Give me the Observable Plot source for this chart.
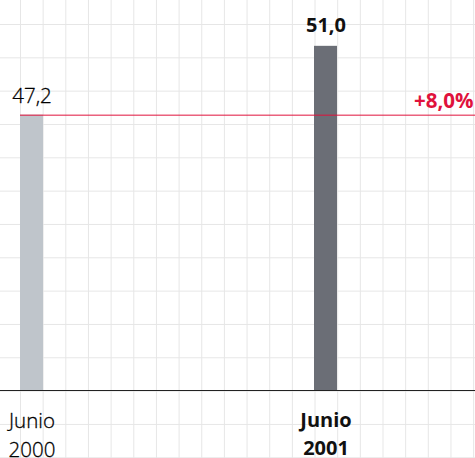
<!DOCTYPE html>
<html>
<head>
<meta charset="utf-8">
<script src="https://cdn.jsdelivr.net/npm/d3@7"></script>
<script src="https://cdn.jsdelivr.net/npm/@observablehq/plot@0.6"></script>
<style>
  html, body { margin: 0; padding: 0; background: #fff; }
  #chart {
    width: 475px; height: 458px; position: relative;
    background-image:
      linear-gradient(to right, #e6e6e6 1px, transparent 1px),
      linear-gradient(to bottom, #e6e6e6 1px, transparent 1px);
    background-size: 22.667px 33.333px, 22.667px 33.333px;
    background-position: 20px 24px, 20px 24px;
  }
  #chart svg { background: transparent; }
</style>
</head>
<body>
<div id="chart"></div>
<script>
// Data
const periods = ["Junio\n2000", "Junio\n2001"];
const values = [47.2, 51.0];
const changeLabel = ["+8,0%"];
const yBase = 32;
const yTop = 53.53;

const colors = ["#bfc5cb", "#6b6e76"];
const red = "#e0123c";

const locale = d3.formatLocale({decimal: ",", thousands: ".", grouping: [3], currency: ["", "€"]});
const fmt = locale.format(".1f");

const data = periods.map((p, i) => ({period: p, value: values[i], color: colors[i], idx: i}));
const first = data.filter(d => d.idx === 0);
const last = data.filter(d => d.idx === 1);

const font = "'Open Sans', sans-serif";

const chart = Plot.plot({
  width: 475,
  height: 458,
  marginTop: 0,
  marginBottom: 68,
  marginLeft: 0,
  marginRight: 0,
  style: {background: "transparent", fontFamily: font, overflow: "visible"},
  x: {type: "band", domain: periods, range: [20, 337.33], paddingInner: 0.923, paddingOuter: 0, axis: null},
  y: {domain: [yBase, yTop], axis: null},
  marks: [
    Plot.barY(data, {x: "period", y1: yBase, y2: "value", fill: "color", clip: true}),
    Plot.ruleY([yBase], {stroke: "#222", strokeWidth: 1}),
    Plot.ruleY([values[0]], {stroke: red, strokeWidth: 1, insetLeft: 20}),
    Plot.text(first, {x: "period", y: "value", text: d => fmt(d.value), lineAnchor: "bottom", dy: -12, fontSize: 20.5, fontWeight: 300, fill: "#000", stroke: "#000", strokeWidth: 0.3}),
    Plot.text(last, {x: "period", y: "value", text: d => fmt(d.value), lineAnchor: "bottom", dy: -14, fontSize: 20, fontWeight: 700, fill: "#111"}),
    Plot.text(changeLabel, {frameAnchor: "right", y: () => values[0], text: d => d, textAnchor: "end", lineAnchor: "bottom", dy: -7, dx: -2, fontSize: 20.5, fontWeight: 700, fill: red}),
    Plot.text(first, {x: "period", y: () => yBase, text: "period", lineAnchor: "top", dy: 17, lineHeight: 1.4, fontSize: 20.5, fontWeight: 300, fill: "#000", stroke: "#000", strokeWidth: 0.3}),
    Plot.text(last, {x: "period", y: () => yBase, text: "period", lineAnchor: "top", dy: 17, lineHeight: 1.4, fontSize: 20, fontWeight: 700, fill: "#111"})
  ]
});
document.getElementById("chart").appendChild(chart);
</script>
</body>
</html>
